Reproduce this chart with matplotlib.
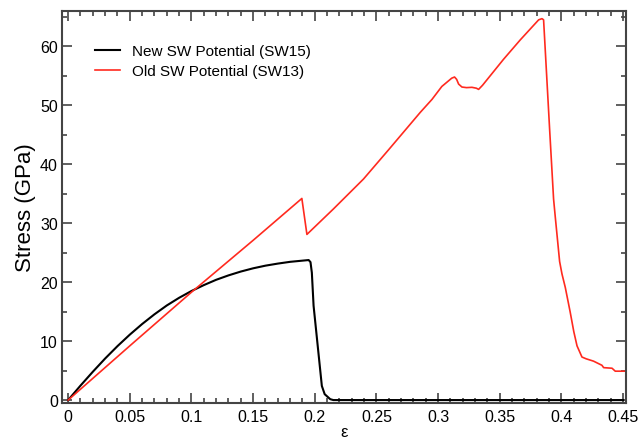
import numpy as np
import matplotlib
matplotlib.use("Agg")
import matplotlib.pyplot as plt
from matplotlib.ticker import MultipleLocator

plt.rcParams['font.family'] = ['Liberation Sans', 'DejaVu Sans']

# SW15 (new potential)
new_strain = [0.0, 0.01, 0.02, 0.03, 0.04, 0.05, 0.06, 0.07, 0.08, 0.09,
              0.10, 0.11, 0.12, 0.13, 0.14, 0.15, 0.16, 0.17, 0.18, 0.19,
              0.195, 0.1965, 0.1976, 0.199, 0.2057, 0.208, 0.2125, 0.215, 0.45]
new_stress = [0.0, 2.45, 4.8, 7.05, 9.15, 11.1, 12.9, 14.55, 16.05, 17.35,
              18.5, 19.5, 20.4, 21.15, 21.8, 22.35, 22.8, 23.15, 23.45, 23.65,
              23.75, 23.4, 21.6, 16.0, 2.4, 1.0, 0.15, 0.0, 0.0]

# SW13 (old potential)
old_strain = [0.0, 0.05, 0.10, 0.15, 0.1895, 0.1936, 0.215, 0.2395, 0.26, 0.2855,
              0.295, 0.303, 0.307, 0.311, 0.3133, 0.315, 0.3166, 0.3193, 0.323,
              0.3274, 0.331, 0.3328, 0.336, 0.353, 0.3666, 0.3815, 0.3842,
              0.3855, 0.3904, 0.3936, 0.395, 0.3985, 0.4004, 0.4031, 0.407,
              0.41, 0.4126, 0.4166, 0.42, 0.426, 0.4328, 0.4342, 0.441, 0.4436,
              0.4517]
old_stress = [0.0, 9.2, 18.3, 27.1, 34.2, 28.1, 32.4, 37.5, 42.5, 48.8,
              51.0, 53.2, 53.9, 54.6, 54.8, 54.4, 53.6, 53.1, 53.0,
              53.05, 52.9, 52.7, 53.4, 57.8, 61.1, 64.5, 64.7,
              64.5, 45.9, 34.1, 31.0, 23.5, 21.4, 19.1, 15.0,
              11.6, 9.2, 7.3, 7.0, 6.6, 5.9, 5.5, 5.4, 4.9,
              4.9]

fig = plt.figure(figsize=(6.39, 4.39), dpi=100)
ax = fig.add_axes([0.097, 0.0797, 0.883, 0.893])

ax.plot(new_strain, new_stress, color='black', lw=1.5, label='New SW Potential (SW15)')
ax.plot(old_strain, old_stress, color='#ff2a1f', lw=1.2, label='Old SW Potential (SW13)')

ax.set_xlim(-0.005, 0.4525)
ax.set_ylim(-0.5, 66)
ax.xaxis.set_minor_locator(MultipleLocator(0.01))
ax.yaxis.set_major_locator(MultipleLocator(10))
ax.yaxis.set_minor_locator(MultipleLocator(5))
ax.set_xticks(np.arange(0, 0.451, 0.05))
ax.set_xticklabels(['0', '0.05', '0.1', '0.15', '0.2', '0.25', '0.3', '0.35', '0.4', '0.45'])

ax.tick_params(which='both', direction='in', top=True, right=True,
               color='#444444', width=1.2, labelsize=11.5)
ax.tick_params(which='major', length=7)
ax.tick_params(which='minor', length=3.5)
ax.tick_params(axis='x', pad=4)
ax.tick_params(axis='y', pad=3)
for s in ax.spines.values():
    s.set_color('#444444')
    s.set_linewidth(1.5)

ax.set_ylabel('Stress (GPa)', fontsize=16, labelpad=3)
ax.set_xlabel('ε', fontsize=12, labelpad=0)

ax.legend(loc='upper left', bbox_to_anchor=(0.035, 0.95), frameon=False,
          fontsize=11, handlelength=1.6, handletextpad=0.8, labelspacing=0.4)

fig.savefig('out.png', dpi=100)
